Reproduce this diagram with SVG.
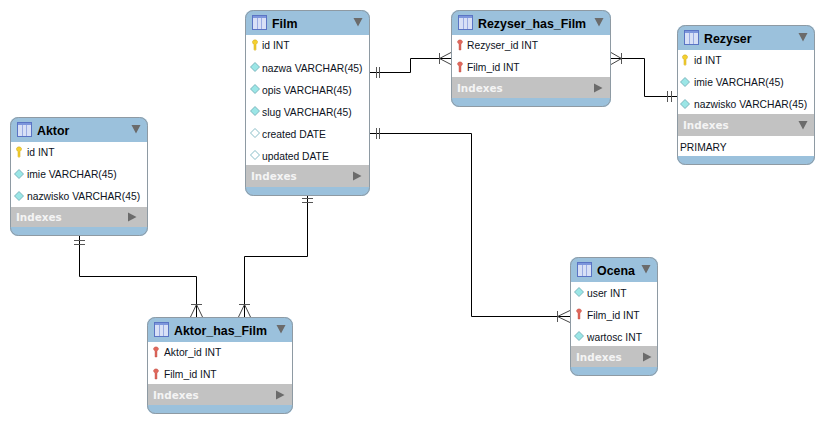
<svg xmlns="http://www.w3.org/2000/svg" xmlns:xlink="http://www.w3.org/1999/xlink" width="824" height="423" viewBox="0 0 824 423">
<style>
text{font-family:"Liberation Sans",Arial,sans-serif;font-size:10.3px;fill:#0c1222}
.t{font-size:12.4px;font-weight:700;fill:#000}
.i{font-family:"DejaVu Sans",sans-serif;font-size:10.4px;font-weight:700;fill:#f4f4f4}
.b{fill:#9bc1dc}.w{fill:#fff}.g{fill:#c2c2c2}
.o{fill:none;stroke:#8e9aa3;stroke-width:1}
.l{fill:none;stroke:#000;stroke-width:1}
.f{fill:none;stroke:#444;stroke-width:1}
.bar{fill:none;stroke:#555;stroke-width:1}
.a{fill:#6b6b6b}
</style>
<defs>
<g id="tbl"><rect x="0.5" y="0.500" width="14" height="14" fill="#d8e0f6" stroke="#5a74c4"/><rect x="1" y="1" width="13" height="2" fill="#7d96dc"/><path d="M5.500 3V14M9.500 3V14" stroke="#9aabe2" fill="none"/></g>
<g id="key"><path d="M-2.500-3.500a2.700 2.700 0 0 1 5 0c0 1.800-1 2.500-1.500 3V4.500l-1 1-1-1V-.5c-.7-.5-1.500-1.200-1.500-3z" fill="#f4d030" stroke="#c9a010" stroke-width=".5"/></g>
<g id="fk"><path d="M-2.500-3.500a2.700 2.700 0 0 1 5 0c0 1.500-1 2-1.500 2.500V5h-2V-1c-.5-.5-1.500-1-1.500-2.500z" fill="#e0685c" stroke="#b84a40" stroke-width=".4"/></g>
<path id="dia" d="M0-4.500 4.500 0 0 4.500-4.500 0z" fill="#9be6e6" stroke="#6aa6b0" stroke-width=".8"/>
<path id="dio" d="M0-4.500 4.500 0 0 4.500-4.500 0z" fill="#fff" stroke="#7ab4c0" stroke-width=".9"/>
<path id="dn" d="M-4.500 0H4.500L0 8.500z" class="a"/>
<path id="rt" d="M0-4.500 8.500 0 0 4.500z" class="a"/>
</defs>

<g id="connectors">
<path class="l" d="M370 72.500H410.500V58.500H451"/>
<path class="bar" d="M376.500 67V78M379.500 67V78M439.500 53V64"/>
<path class="f" d="M439.500 58.500 451 52.500M439.500 58.500 451 64.500"/>
<path class="l" d="M611 58.500H644.500V96.500H677"/>
<path class="bar" d="M621.500 53V64M667.500 91V102M671.500 91V102"/>
<path class="f" d="M621.500 58.500 611 52.500M621.500 58.500 611 64.500"/>
<path class="l" d="M370 133.500H471.500V316.500H570"/>
<path class="bar" d="M376.500 128V139M379.500 128V139M557.500 311V322"/>
<path class="f" d="M557.500 316.500 570 310.500M557.500 316.500 570 322.500"/>
<path class="l" d="M307.500 196V256.500H244.500V317"/>
<path class="bar" d="M302 198.500H313M302 202.500H313M239 304.500H250"/>
<path class="f" d="M244.500 304.500 238.500 317M244.500 304.500 250.500 317"/>
<path class="l" d="M79.500 236V276.500H196.500V317"/>
<path class="bar" d="M74 240.500H85M74 244.500H85M191 304.500H202"/>
<path class="f" d="M196.500 304.500 190.500 317M196.500 304.500 202.500 317"/>
</g>

<g id="Film" transform="translate(245 10)">
<rect class="b" width="125" height="186" rx="8"/>
<rect class="w" y="25" width="125" height="131"/>
<rect class="g" y="155" width="125" height="22"/>
<rect class="o" x=".5" y=".5" width="124" height="185" rx="8"/>
<use xlink:href="#tbl" x="7" y="5"/><text class="t" x="27" y="18">Film</text><use xlink:href="#dn" x="113" y="8"/>
<use xlink:href="#key" x="10" y="35"/><text x="17" y="39">id INT</text>
<use xlink:href="#dia" x="10" y="57"/><text x="17" y="62">nazwa VARCHAR(45)</text>
<use xlink:href="#dia" x="10" y="79"/><text x="17" y="84">opis VARCHAR(45)</text>
<use xlink:href="#dia" x="10" y="101"/><text x="17" y="106">slug VARCHAR(45)</text>
<use xlink:href="#dio" x="10" y="123"/><text x="17" y="128">created DATE</text>
<use xlink:href="#dio" x="10" y="145"/><text x="17" y="150">updated DATE</text>
<text class="i" x="6" y="170">Indexes</text><use xlink:href="#rt" x="108" y="166"/>
</g>

<g id="Rezyser_has_Film" transform="translate(451 10)">
<rect class="b" width="160" height="97" rx="8"/>
<rect class="w" y="25" width="160" height="42"/>
<rect class="g" y="67" width="160" height="21"/>
<rect class="o" x=".5" y=".5" width="159" height="96" rx="8"/>
<use xlink:href="#tbl" x="7" y="5"/><text class="t" x="27" y="18">Rezyser_has_Film</text><use xlink:href="#dn" x="148" y="8"/>
<use xlink:href="#fk" x="9" y="35"/><text x="16" y="39">Rezyser_id INT</text>
<use xlink:href="#fk" x="9" y="57"/><text x="16" y="61">Film_id INT</text>
<text class="i" x="6" y="82">Indexes</text><use xlink:href="#rt" x="143" y="78"/>
</g>

<g id="Rezyser" transform="translate(677 25)">
<rect class="b" width="138" height="140" rx="8"/>
<rect class="w" y="25" width="138" height="106"/>
<rect class="g" y="89" width="138" height="22"/>
<rect class="o" x=".5" y=".5" width="137" height="139" rx="8"/>
<use xlink:href="#tbl" x="7" y="5"/><text class="t" x="27" y="18">Rezyser</text><use xlink:href="#dn" x="126" y="8"/>
<use xlink:href="#key" x="8" y="35"/><text x="17" y="39">id INT</text>
<use xlink:href="#dia" x="8" y="57"/><text x="17" y="61">imie VARCHAR(45)</text>
<use xlink:href="#dia" x="8" y="79"/><text x="17" y="83">nazwisko VARCHAR(45)</text>
<text class="i" x="6" y="104">Indexes</text><use xlink:href="#dn" x="126" y="96"/>
<text x="3" y="126">PRIMARY</text>
</g>

<g id="Aktor" transform="translate(10 117)">
<rect class="b" width="138" height="119" rx="8"/>
<rect class="w" y="25" width="138" height="66"/>
<rect class="g" y="90" width="138" height="20"/>
<rect class="o" x=".5" y=".5" width="137" height="118" rx="8"/>
<use xlink:href="#tbl" x="7" y="5"/><text class="t" x="27" y="18">Aktor</text><use xlink:href="#dn" x="126" y="8"/>
<use xlink:href="#key" x="9" y="35"/><text x="17" y="39">id INT</text>
<use xlink:href="#dia" x="9" y="57"/><text x="17" y="61">imie VARCHAR(45)</text>
<use xlink:href="#dia" x="9" y="79"/><text x="17" y="83">nazwisko VARCHAR(45)</text>
<text class="i" x="6" y="104">Indexes</text><use xlink:href="#rt" x="118" y="100"/>
</g>

<g id="Aktor_has_Film" transform="translate(147 317)">
<rect class="b" width="146" height="97" rx="8"/>
<rect class="w" y="25" width="146" height="42"/>
<rect class="g" y="67" width="146" height="21"/>
<rect class="o" x=".5" y=".5" width="145" height="96" rx="8"/>
<use xlink:href="#tbl" x="7" y="5"/><text class="t" x="27" y="18">Aktor_has_Film</text><use xlink:href="#dn" x="134" y="8"/>
<use xlink:href="#fk" x="9" y="35"/><text x="17" y="39">Aktor_id INT</text>
<use xlink:href="#fk" x="9" y="57"/><text x="17" y="61">Film_id INT</text>
<text class="i" x="6" y="82">Indexes</text><use xlink:href="#rt" x="129" y="78"/>
</g>

<g id="Ocena" transform="translate(570 257)">
<rect class="b" width="88" height="119" rx="8"/>
<rect class="w" y="25" width="88" height="64"/>
<rect class="g" y="89" width="88" height="21"/>
<rect class="o" x=".5" y=".5" width="87" height="118" rx="8"/>
<use xlink:href="#tbl" x="7" y="5"/><text class="t" x="27" y="18">Ocena</text><use xlink:href="#dn" x="76" y="8"/>
<use xlink:href="#dia" x="9" y="35"/><text x="17" y="40">user INT</text>
<use xlink:href="#fk" x="9" y="57"/><text x="17" y="62">Film_id INT</text>
<use xlink:href="#dia" x="9" y="79"/><text x="17" y="84">wartosc INT</text>
<text class="i" x="6" y="104">Indexes</text><use xlink:href="#rt" x="73" y="100"/>
</g>
</svg>
